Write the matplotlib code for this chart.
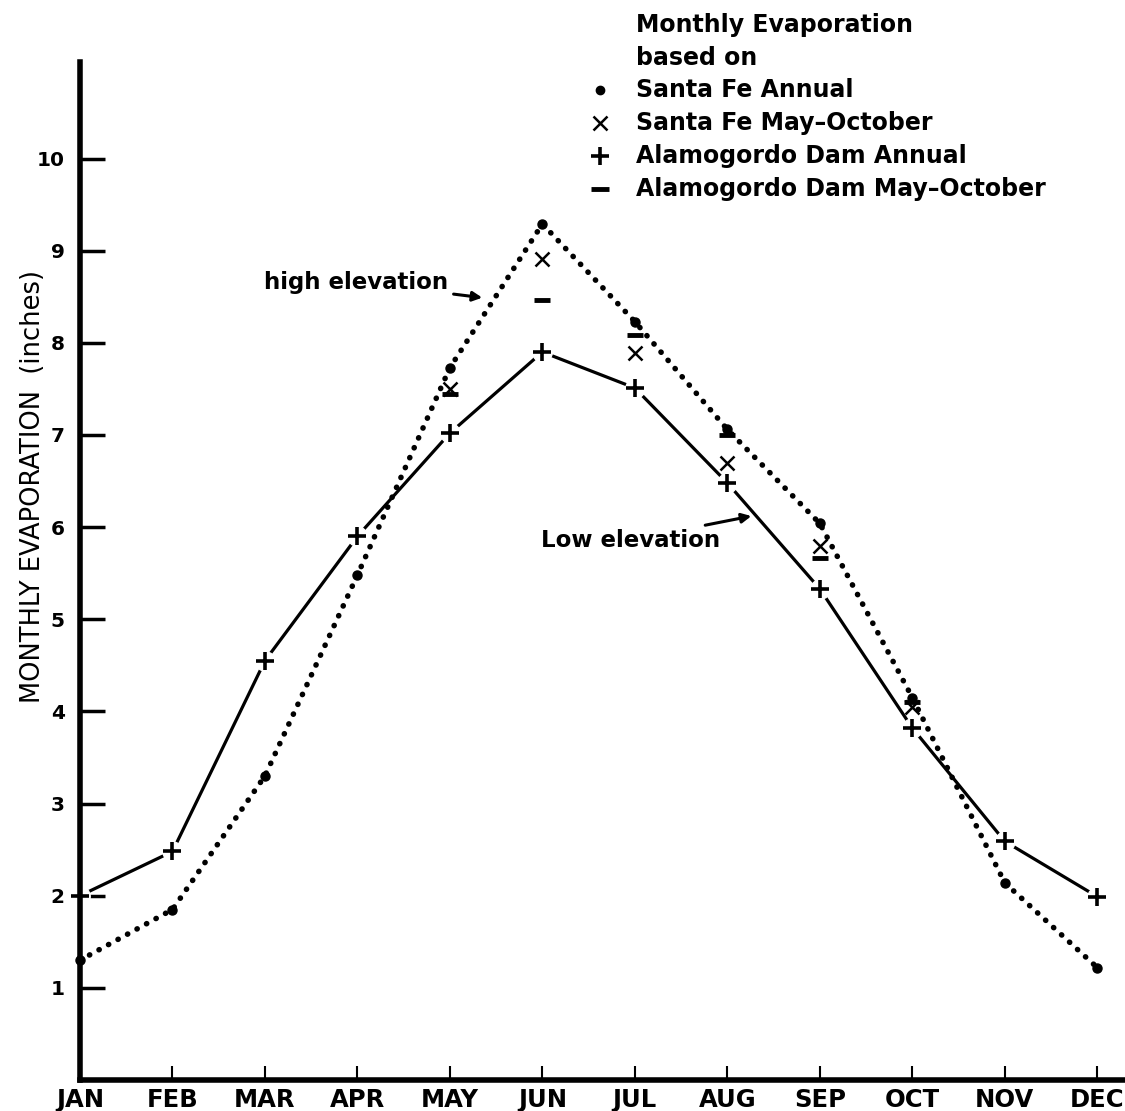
import matplotlib
matplotlib.use("Agg")
import matplotlib.pyplot as plt

months = ["JAN", "FEB", "MAR", "APR", "MAY", "JUN", "JUL", "AUG", "SEP", "OCT", "NOV", "DEC"]
yticks = [1, 2, 3, 4, 5, 6, 7, 8, 9, 10]

# Santa Fe annual (dots, dotted curve)
santa_fe_annual = [1.3, 1.85, 3.3, 5.48, 7.73, 9.29, 8.23, 7.06, 6.04, 4.15, 2.14, 1.22]
# Alamogordo Dam annual (+, solid curve)
alamo_annual = [2.0, 2.48, 4.55, 5.9, 7.02, 7.9, 7.51, 6.48, 5.33, 3.82, 2.59, 1.99]
# May-October based estimates (MAY..OCT)
may_oct_idx = [4, 5, 6, 7, 8, 9]
santa_fe_mayoct = [7.5, 8.91, 7.89, 6.7, 5.8, 4.05]
alamo_mayoct = [7.45, 8.46, 8.09, 7.0, 5.66, 4.1]

plt.rcParams['font.family'] = ['DejaVu Sans']
plt.rcParams['font.weight'] = 'bold'

fig = plt.figure(figsize=(11.25, 11.11), dpi=100)
ax = fig.add_axes([0.0711, 0.0279, 0.9289, 0.9165])

x = list(range(len(months)))

# dotted curve for high elevation
ax.plot(x, santa_fe_annual, color="black", lw=4, linestyle=(0, (0.05, 1.9)),
        dash_capstyle="round", zorder=2, clip_on=False)
ax.plot(x, santa_fe_annual, "o", color="black", ms=6.5, zorder=3, clip_on=False)

# solid curve for low elevation with gaps at the markers
ax.plot(x, alamo_annual, color="black", lw=2.3, zorder=2)
ax.plot(x, alamo_annual, "o", color="white", ms=14, zorder=2.2)
ax.plot(x, alamo_annual, "+", color="black", ms=13, mew=2.6, zorder=4, clip_on=False)

ax.plot(may_oct_idx, santa_fe_mayoct, "x", color="black", ms=10, mew=1.8, zorder=4)
ax.plot(may_oct_idx, alamo_mayoct, "_", color="black", ms=12, mew=3.5, zorder=4)

ax.set_xlim(0, 11.3)
ax.set_ylim(0, 11.05)
ax.set_xticks(x)
ax.set_xticklabels(months, fontsize=17.5, fontweight="bold")
ax.set_yticks(yticks)
ax.set_yticklabels([str(v) for v in yticks], fontsize=14.5, fontweight="bold")
ax.tick_params(axis="y", direction="in", length=18, width=2.5, pad=11)
ax.tick_params(axis="x", direction="in", length=10, width=1.5, pad=6)
for side in ["top", "right"]:
    ax.spines[side].set_visible(False)
ax.spines["left"].set_linewidth(4)
ax.spines["bottom"].set_linewidth(4)

ax.set_ylabel("MONTHLY EVAPORATION  (inches)", fontsize=18.5, fontweight="normal")
ax.yaxis.set_label_coords(-0.033, 0.583)

# annotations
ax.annotate("high elevation", xy=(4.35, 8.49), xytext=(3.98, 8.66),
            ha="right", va="center", fontsize=16.5, fontweight="bold",
            arrowprops=dict(arrowstyle="-|>", color="black", lw=2.2,
                            shrinkA=2, shrinkB=0, mutation_scale=14))
ax.annotate("Low elevation", xy=(7.26, 6.12), xytext=(6.92, 5.86),
            ha="right", va="center", fontsize=16.5, fontweight="bold",
            arrowprops=dict(arrowstyle="-|>", color="black", lw=2.2,
                            shrinkA=2, shrinkB=0, mutation_scale=14))

# legend block at top right
H = 1111.0
mx, tx = 0.533, 0.565
fig.text(tx, 1 - 25 / H, "Monthly Evaporation", fontsize=17, fontweight="bold", va="center")
fig.text(tx, 1 - 58 / H, "based on", fontsize=17, fontweight="bold", va="center")
rows = [("o", 6, 1, "Santa Fe Annual"),
        ("x", 10, 1.8, "Santa Fe May\u2013October"),
        ("+", 13, 2.6, "Alamogordo Dam Annual"),
        ("_", 13, 3.5, "Alamogordo Dam May\u2013October")]
for i, (m, ms, mew, label) in enumerate(rows):
    yy = 1 - (90 + 33 * i) / H
    fig.lines.append(plt.Line2D([mx], [yy], marker=m, ms=ms, mew=mew, color="black",
                                transform=fig.transFigure))
    fig.text(tx, yy, label, fontsize=17, fontweight="bold", va="center")

fig.savefig("out.png", dpi=100)
